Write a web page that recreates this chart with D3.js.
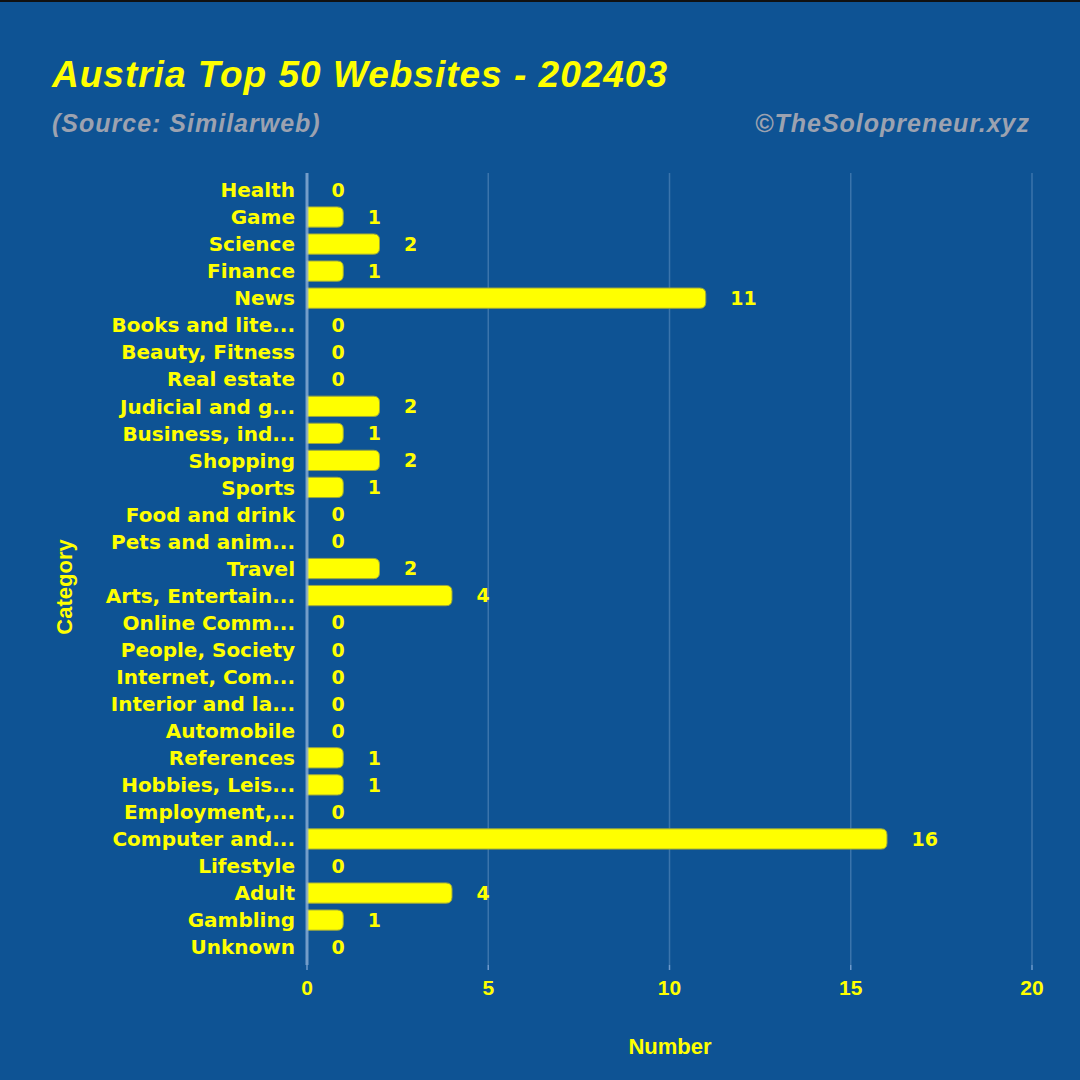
<!DOCTYPE html>
<html><head><meta charset="utf-8">
<script src="https://cdn.jsdelivr.net/npm/d3@7"></script>
<style>
html,body{margin:0;padding:0;background:#0E5394;}
svg{display:block;}
text{font-family:"Liberation Sans",Arial,sans-serif;}
.dv{font-family:"DejaVu Sans",Verdana,sans-serif;}
</style></head>
<body>
<svg id="chart" width="1080" height="1080"></svg>
<script>
const categories = ["Health","Game","Science","Finance","News","Books and lite...","Beauty, Fitness","Real estate","Judicial and g...","Business, ind...","Shopping","Sports","Food and drink","Pets and anim...","Travel","Arts, Entertain...","Online Comm...","People, Society","Internet, Com...","Interior and la...","Automobile","References","Hobbies, Leis...","Employment,...","Computer and...","Lifestyle","Adult","Gambling","Unknown"];
const values = [0,1,2,1,11,0,0,0,2,1,2,1,0,0,2,4,0,0,0,0,0,1,1,0,16,0,4,1,0];
const xTicks = [0,5,10,15,20];
const titleText = "Austria Top 50 Websites - 202403";
const subtitleText = "(Source: Similarweb)";
const creditText = "©TheSolopreneur.xyz";

(function(){
const W = 1080, H = 1080;
const bg = "#0E5394", yellow = "#FFFF00", grey = "#9CA2B0";
const svg = d3.select("#chart");
svg.append("rect").attr("width",W).attr("height",H).attr("fill",bg);
svg.append("rect").attr("width",W).attr("height",2).attr("fill","#111");

const x0 = 307, x1 = 1032;
const x = d3.scaleLinear().domain([0,20]).range([x0,x1]);
const y = d3.scaleBand().domain(categories).range([169.7,967.4]).paddingInner(0.25).paddingOuter(0.375);
const plotTop = 173, plotBottom = 965;

// gridlines
svg.append("g").selectAll("line").data(xTicks.filter(d=>d>0)).join("line")
  .attr("x1",d=>x(d)).attr("x2",d=>x(d)).attr("y1",plotTop).attr("y2",plotBottom)
  .attr("stroke","#5F8FBF").attr("stroke-opacity",0.55).attr("stroke-width",1.5);
// tick marks
svg.append("g").selectAll("line").data(xTicks).join("line")
  .attr("x1",d=>x(d)).attr("x2",d=>x(d)).attr("y1",plotBottom).attr("y2",plotBottom+5)
  .attr("stroke","#6E9ACB").attr("stroke-width",1.5);

// bars with rounded right ends
const r = 6;
function barPath(v, cat){
  const xa = x(0), xb = x(v), yt = y(cat), h = y.bandwidth();
  const rr = Math.min(r, (xb-xa)/2);
  return `M${xa},${yt}H${xb-rr}Q${xb},${yt} ${xb},${yt+rr}V${yt+h-rr}Q${xb},${yt+h} ${xb-rr},${yt+h}H${xa}Z`;
}
svg.append("g").selectAll("path").data(categories.map((c,i)=>({c,v:values[i]})).filter(d=>d.v>0)).join("path")
  .attr("d",d=>barPath(d.v,d.c)).attr("fill",yellow).attr("stroke","#9AA640").attr("stroke-width",1);

// y axis line
svg.append("line").attr("x1",x0).attr("x2",x0).attr("y1",plotTop).attr("y2",plotBottom)
  .attr("stroke","#8FB0D6").attr("stroke-width",3).attr("stroke-opacity",0.8);

// value labels
svg.append("g").selectAll("text").data(categories.map((c,i)=>({c,v:values[i]}))).join("text")
  .attr("class","dv")
  .attr("x",d=>x(d.v)+24.5).attr("y",d=>y(d.c)+y.bandwidth()/2).attr("dy","0.36em")
  .attr("text-anchor","start").attr("fill",yellow).attr("font-weight","bold").attr("font-size",19)
  .text(d=>d.v);

// category labels
svg.append("g").selectAll("text").data(categories).join("text")
  .attr("class","dv")
  .attr("x",295).attr("y",d=>y(d)+y.bandwidth()/2).attr("dy","0.36em")
  .attr("text-anchor","end").attr("fill",yellow).attr("font-weight","bold").attr("font-size",20)
  .text(d=>d);

// x tick labels
svg.append("g").selectAll("text").data(xTicks).join("text")
  .attr("x",d=>x(d)).attr("y",995).attr("text-anchor","middle")
  .attr("fill",yellow).attr("font-weight","bold").attr("font-size",21).text(d=>d);

// axis titles
svg.append("text").attr("x",670).attr("y",1054).attr("text-anchor","middle")
  .attr("fill",yellow).attr("font-weight","bold").attr("font-size",22).text("Number");
svg.append("text").attr("transform","translate(72,587) rotate(-90)").attr("text-anchor","middle")
  .attr("fill",yellow).attr("font-weight","bold").attr("font-size",22).text("Category");

// titles
svg.append("text").attr("x",52).attr("y",87).attr("fill",yellow).attr("font-weight","bold")
  .attr("font-style","italic").attr("font-size",37).attr("letter-spacing",1).text(titleText);
svg.append("text").attr("x",52).attr("y",132).attr("fill",grey).attr("font-weight","bold")
  .attr("font-style","italic").attr("font-size",25).attr("letter-spacing",1).text(subtitleText);
svg.append("text").attr("x",1030).attr("y",132).attr("text-anchor","end").attr("fill",grey).attr("font-weight","bold")
  .attr("font-style","italic").attr("font-size",25).attr("letter-spacing",1).text(creditText);
})();
</script>
</body></html>
